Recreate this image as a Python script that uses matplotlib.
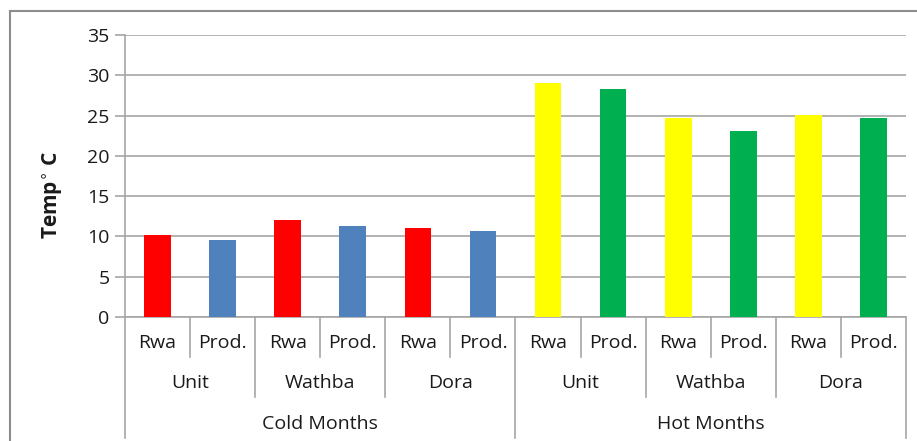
import matplotlib
matplotlib.use('Agg')
import matplotlib.pyplot as plt
from matplotlib.lines import Line2D

plt.rcParams['font.family'] = ['Open Sans', 'DejaVu Sans']

# data
groups = ['Cold Months', 'Hot Months']
sites = ['Unit', 'Wathba', 'Dora']
kinds = ['Rwa', 'Prod.']
cold_vals = [10.2, 9.6, 12.0, 11.3, 11.0, 10.7]
hot_vals = [29.0, 28.25, 24.65, 23.1, 25.1, 24.65]
cold_colors = ['#FF0000', '#4F81BD']
hot_colors = ['#FFFF00', '#00B050']

vals = cold_vals + hot_vals
colors = cold_colors * 3 + hot_colors * 3
xs = list(range(len(vals)))

fig = plt.figure(figsize=(9.17, 4.41), dpi=100)
ax = fig.add_axes([0.1363, 0.2812, 0.8517, 0.6394])

ax.bar(xs, vals, width=0.41, color=colors, zorder=3)

gc = '#a6a6a6'
tc = '#1a1a1a'
fs = 14
ax.set_xlim(-0.5, 11.5)
ax.set_ylim(0, 35)
ax.set_yticks(range(0, 36, 5))
ax.yaxis.grid(True, color=gc, linewidth=1.2, zorder=0)
ax.tick_params(axis='y', length=7, color=gc, width=1.2, labelsize=fs, pad=4, labelcolor=tc)
ax.tick_params(axis='x', length=0, labelbottom=False)
for s in ['top', 'right']:
    ax.spines[s].set_visible(False)
ax.spines['left'].set_color(gc)
ax.spines['bottom'].set_color(gc)
ax.spines['left'].set_linewidth(1.2)
ax.spines['bottom'].set_linewidth(1.2)

ax.set_ylabel('Temp$^{\\circ}$ C', fontsize=15, fontweight='bold', color=tc)
ax.yaxis.set_label_coords(-0.077, 0.433)

tr = ax.get_xaxis_transform()
lev1, lev2, lev3 = -0.142, -0.284, -0.429

def sep(x, y):
    ax.add_line(Line2D([x, x], [0, y], transform=tr, color=gc, lw=1.2, clip_on=False))

# level 1: Rwa / Prod.
for i in xs:
    ax.text(i, -0.092, kinds[i % 2], transform=tr, ha='center', va='center',
            fontsize=fs, color=tc)
    if i % 2 == 0:
        sep(i + 0.5, lev1)

# level 2: sites
for j in range(6):
    ax.text(2 * j + 0.5, -0.234, sites[j % 3], transform=tr, ha='center', va='center',
            fontsize=fs, color=tc)
    if j % 3 != 2:
        sep(2 * j + 1.5, lev2)

# level 3: cold / hot
for k, g in enumerate(groups):
    ax.text(6 * k + 2.5, -0.379, g, transform=tr, ha='center', va='center',
            fontsize=fs, color=tc)
sep(-0.5, lev3)
sep(5.5, lev3)
sep(11.5, lev3)

# outer chart frame (top and left edges visible)
fig.add_artist(Line2D([10 / 917, 1], [1 - 11 / 441, 1 - 11 / 441], transform=fig.transFigure,
                      color='#8c8c8c', lw=1.5))
fig.add_artist(Line2D([10 / 917, 10 / 917], [0, 1 - 11 / 441], transform=fig.transFigure,
                      color='#8c8c8c', lw=1.5))

fig.savefig('out.png', dpi=100)
